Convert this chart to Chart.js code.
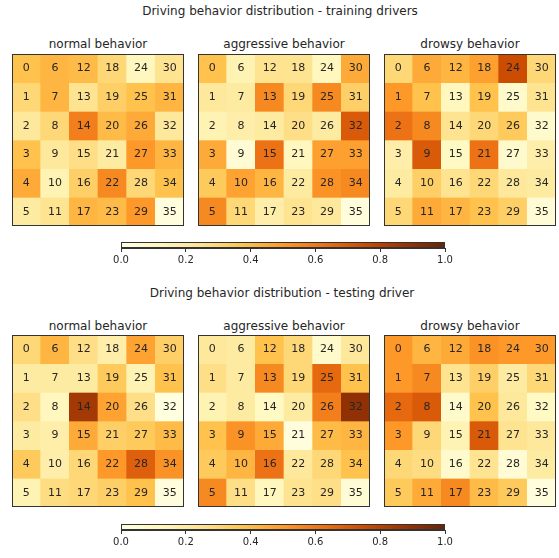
<!DOCTYPE html>
<html>
<head>
<meta charset="utf-8">
<script src="https://cdn.jsdelivr.net/npm/chart.js@4/dist/chart.umd.min.js"></script>
<style>
  html, body { margin:0; padding:0; background:#fff; }
  #root { position:relative; width:559px; height:558px; overflow:hidden; font-family:"DejaVu Sans", sans-serif; color:#262626; }
  .t { position:absolute; white-space:nowrap; font-size:12px; transform:translateX(-50%); line-height:14px; }
  canvas { position:absolute; }
</style>
</head>
<body>
<div id="root">
  <div class="t" style="left:280px;top:4px;">Driving behavior distribution - training drivers</div>
  <div class="t" style="left:98px;top:37px;">normal behavior</div>
  <div class="t" style="left:284px;top:37px;">aggressive behavior</div>
  <div class="t" style="left:470px;top:37px;">drowsy behavior</div>
  <div class="t" style="left:282px;top:286px;">Driving behavior distribution - testing driver</div>
  <div class="t" style="left:98px;top:319px;">normal behavior</div>
  <div class="t" style="left:284px;top:319px;">aggressive behavior</div>
  <div class="t" style="left:470px;top:319px;">drowsy behavior</div>
</div>
<script>
// cell value grids: rows top->bottom, columns left->right; cell label = col*6 + row
const trainNormal = [
  [0.38,0.42,0.40,0.30,0.12,0.25],
  [0.30,0.42,0.25,0.33,0.38,0.42],
  [0.22,0.30,0.58,0.40,0.45,0.22],
  [0.38,0.22,0.27,0.20,0.50,0.42],
  [0.45,0.15,0.33,0.55,0.30,0.38],
  [0.20,0.25,0.42,0.40,0.50,0.03]
];
const trainAggressive = [
  [0.38,0.15,0.25,0.25,0.12,0.45],
  [0.22,0.20,0.55,0.30,0.55,0.33],
  [0.15,0.18,0.20,0.27,0.20,0.70],
  [0.45,0.05,0.62,0.12,0.48,0.48],
  [0.35,0.47,0.42,0.20,0.52,0.55],
  [0.55,0.30,0.18,0.25,0.22,0.03]
];
const trainDrowsy = [
  [0.30,0.45,0.42,0.48,0.75,0.30],
  [0.50,0.38,0.12,0.38,0.08,0.25],
  [0.62,0.55,0.25,0.30,0.35,0.08],
  [0.18,0.70,0.10,0.62,0.08,0.18],
  [0.20,0.33,0.25,0.30,0.22,0.20],
  [0.30,0.45,0.42,0.38,0.33,0.05]
];
const testNormal = [
  [0.30,0.42,0.27,0.18,0.47,0.33],
  [0.20,0.20,0.20,0.35,0.15,0.38],
  [0.27,0.12,0.85,0.47,0.27,0.02],
  [0.20,0.18,0.45,0.33,0.35,0.40],
  [0.35,0.18,0.30,0.50,0.68,0.52],
  [0.15,0.28,0.30,0.33,0.38,0.03]
];
const testAggressive = [
  [0.22,0.20,0.38,0.30,0.08,0.22],
  [0.27,0.20,0.55,0.30,0.65,0.38],
  [0.15,0.20,0.10,0.20,0.58,0.90],
  [0.38,0.52,0.45,0.03,0.40,0.42],
  [0.35,0.42,0.62,0.22,0.30,0.38],
  [0.55,0.27,0.12,0.25,0.27,0.05]
];
const testDrowsy = [
  [0.50,0.42,0.45,0.52,0.50,0.50],
  [0.50,0.55,0.25,0.33,0.20,0.30],
  [0.65,0.70,0.08,0.38,0.22,0.10],
  [0.50,0.30,0.15,0.70,0.25,0.22],
  [0.30,0.28,0.08,0.25,0.05,0.20],
  [0.35,0.45,0.55,0.40,0.35,0.03]
];
const columns = ['0','1','2','3','4','5'];
const colorbarTicks = [0, 0.2, 0.4, 0.6, 0.8, 1.0];

// YlOrBr colormap
const cmapStops = ['#ffffe5','#fff7bc','#fee391','#fec44f','#fe9929','#ec7014','#cc4c02','#993404','#662506'];
function hex(h){ return [parseInt(h.substr(1,2),16),parseInt(h.substr(3,2),16),parseInt(h.substr(5,2),16)]; }
function cmap(v){
  v = Math.max(0, Math.min(1, v));
  const p = v * (cmapStops.length - 1);
  const i = Math.min(Math.floor(p), cmapStops.length - 2);
  const f = p - i;
  const a = hex(cmapStops[i]), b = hex(cmapStops[i+1]);
  const c = a.map((x,k)=>Math.round(x + (b[k]-x)*f));
  return 'rgb(' + c.join(',') + ')';
}

const root = document.getElementById('root');
function addCanvas(left, top, w, h){
  const c = document.createElement('canvas');
  c.width = w; c.height = h;
  c.style.left = left + 'px'; c.style.top = top + 'px';
  c.style.width = w + 'px'; c.style.height = h + 'px';
  root.appendChild(c);
  return c;
}

const cellLabels = {
  id: 'cellLabels',
  afterDatasetsDraw(chart){
    const ctx = chart.ctx;
    ctx.save();
    ctx.font = '11px "DejaVu Sans", sans-serif';
    ctx.fillStyle = '#262626';
    ctx.textAlign = 'center';
    ctx.textBaseline = 'middle';
    chart.data.datasets.forEach((ds, r) => {
      chart.getDatasetMeta(r).data.forEach((bar, c) => {
        ctx.fillText(String(c*6 + r), bar.x, (bar.y + bar.base)/2);
      });
    });
    ctx.restore();
  }
};
const frame = {
  id: 'frame',
  afterDraw(chart){
    const a = chart.chartArea, ctx = chart.ctx;
    ctx.save();
    ctx.strokeStyle = '#333';
    ctx.lineWidth = 1;
    ctx.strokeRect(a.left+0.5, a.top+0.5, a.right-a.left-1, a.bottom-a.top-1);
    ctx.restore();
  }
};

function heatmap(grid, left, top, size){
  const cv = addCanvas(left, top, size, size);
  new Chart(cv, {
    type: 'bar',
    data: {
      labels: columns,
      datasets: grid.map(row => ({
        data: row.map(() => 1),
        backgroundColor: row.map(v => cmap(v)),
        borderWidth: 0,
        barPercentage: 1,
        categoryPercentage: 1
      }))
    },
    options: {
      responsive: false, animation: false, devicePixelRatio: 1,
      layout: { padding: 0 },
      plugins: { legend: { display: false }, tooltip: { enabled: false } },
      scales: {
        x: { display: false, stacked: true, grid: { display: false } },
        y: { display: false, stacked: true, min: 0, max: 6, reverse: true, grid: { display: false } }
      }
    },
    plugins: [cellLabels, frame]
  });
}

function colorbar(left, top){
  const cv = addCanvas(left, top, 354, 32);
  new Chart(cv, {
    type: 'bar',
    data: { labels: [''], datasets: [{
      data: [1],
      barPercentage: 1, categoryPercentage: 1, borderWidth: 0,
      backgroundColor: (ctx) => {
        const ca = ctx.chart.chartArea;
        if (!ca) return '#fff';
        const g = ctx.chart.ctx.createLinearGradient(ca.left, 0, ca.right, 0);
        cmapStops.forEach((s, i) => g.addColorStop(i/(cmapStops.length-1), s));
        return g;
      }
    }]},
    options: {
      indexAxis: 'y',
      responsive: false, animation: false, devicePixelRatio: 1,
      layout: { padding: { left: 15, right: 15, top: 4, bottom: 0 } },
      plugins: { legend: { display: false }, tooltip: { enabled: false } },
      scales: {
        x: {
          type: 'linear', min: 0, max: 1,
          afterBuildTicks: (ax) => { ax.ticks = colorbarTicks.map(v => ({ value: v })); },
          afterFit: (ax) => { ax.height = 22; },
          ticks: { callback: v => v.toFixed(1), font: { family: 'DejaVu Sans', size: 10 }, color: '#262626', padding: 2, maxRotation: 0 },
          grid: { drawOnChartArea: false, tickLength: 4, color: '#333' },
          border: { display: true, color: '#333' }
        },
        y: { display: false }
      }
    },
    plugins: [frame]
  });
}

const S = 172;
heatmap(trainNormal, 12, 54, S);
heatmap(trainAggressive, 198, 54, S);
heatmap(trainDrowsy, 384, 54, S);
heatmap(testNormal, 12, 335, S);
heatmap(testAggressive, 198, 335, S);
heatmap(testDrowsy, 384, 335, S);
colorbar(106, 238);
colorbar(106, 520);
</script>
</body>
</html>
